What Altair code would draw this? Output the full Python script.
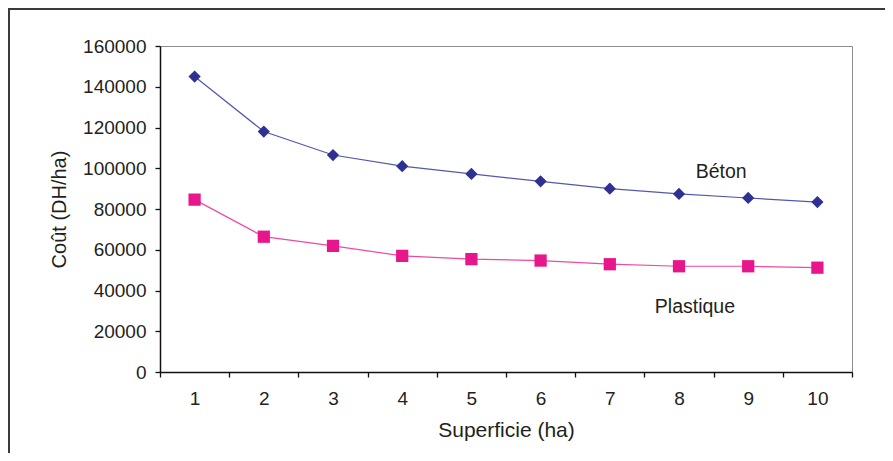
import altair as alt
import pandas as pd

# ---- data ----
superficie = [1, 2, 3, 4, 5, 6, 7, 8, 9, 10]
beton = [145000, 118000, 106500, 101000, 97200, 93600, 90000, 87400, 85400, 83400]
plastique = [84600, 66400, 61900, 57000, 55400, 54700, 52900, 51900, 51900, 51200]
series_names = ["Béton", "Plastique"]
y_ticks = [0, 20000, 40000, 60000, 80000, 100000, 120000, 140000, 160000]
x_ticks = [0.5, 1.5, 2.5, 3.5, 4.5, 5.5, 6.5, 7.5, 8.5, 9.5, 10.5]

# annotation labels (data coordinates)
label_text = ["Béton", "Plastique"]
label_x = [8.61, 8.23]
label_y = [98400, 31900]

colors_marker = ["#2e3192", "#e8168b"]
colors_line = ["#5458ab", "#ee4aa3"]
shapes = ["diamond", "square"]

rows = []
for name, vals in zip(series_names, [beton, plastique]):
    for h, v in zip(superficie, vals):
        rows.append({"ha": h, "cout": v, "serie": name})
df = pd.DataFrame(rows)
lab = pd.DataFrame({"t": label_text, "x": label_x, "y": label_y})

FONT = "Liberation Sans"
TXT = "#231f20"

xscale = alt.Scale(domain=[0.5, 10.5], nice=False, zero=False)
yscale = alt.Scale(domain=[0, 160000], nice=False)

xaxis = alt.Axis(
    values=x_ticks,
    labelExpr="datum.value < 10 ? format(datum.value + 0.5, 'd') : ''",
    labelOffset=34.6,
    labelFlush=False,
    labelPadding=12,
    tickSize=5,
    grid=False,
    title="Superficie (ha)",
    titlePadding=11,
    titleFontSize=21,
)
yaxis = alt.Axis(
    values=y_ticks,
    format="d",
    labelPadding=9,
    tickSize=5,
    grid=False,
    title="Coût (DH/ha)",
    titlePadding=13,
)

base = alt.Chart(df).encode(
    x=alt.X("ha:Q", scale=xscale, axis=xaxis),
    y=alt.Y("cout:Q", scale=yscale, axis=yaxis),
)

lines = base.mark_line(strokeWidth=1.2).encode(
    color=alt.Color("serie:N", scale=alt.Scale(domain=series_names, range=colors_line), legend=None),
    detail="serie:N",
)
points = base.mark_point(filled=True, opacity=1, size=150).encode(
    color=alt.Color("serie:N", scale=alt.Scale(domain=series_names, range=colors_marker), legend=None),
    shape=alt.Shape("serie:N", scale=alt.Scale(domain=series_names, range=shapes), legend=None),
)

labels = alt.Chart(lab).mark_text(
    font=FONT, fontSize=19.5, color=TXT, align="center", baseline="middle"
).encode(
    x=alt.X("x:Q", scale=xscale),
    y=alt.Y("y:Q", scale=yscale),
    text="t:N",
)

frame = alt.Chart(alt.Data(values=[{}])).mark_rect(
    fill=None, stroke="#3a3a3a", strokeWidth=2
).encode(
    x=alt.value(-151), x2=alt.value(900), y=alt.value(-37), y2=alt.value(600)
)

chart = (
    alt.layer(frame, lines, points, labels)
    .resolve_scale(color="independent")
    .properties(
        width=692,
        height=326,
        autosize=alt.AutoSizeParams(type="none"),
        padding={"left": 152, "top": 38, "right": 33, "bottom": 81},
    )
    .configure_view(stroke="#8c8c8c", strokeWidth=1)
    .configure_axis(
        domainColor="#111111",
        domainWidth=1.5,
        tickColor="#111111",
        tickWidth=1.3,
        labelFont=FONT,
        labelFontSize=19,
        labelColor=TXT,
        titleFont=FONT,
        titleFontSize=20,
        titleFontWeight="normal",
        titleColor=TXT,
    )
)

chart.save("out.html", embed_options={"renderer": "svg", "actions": False})
